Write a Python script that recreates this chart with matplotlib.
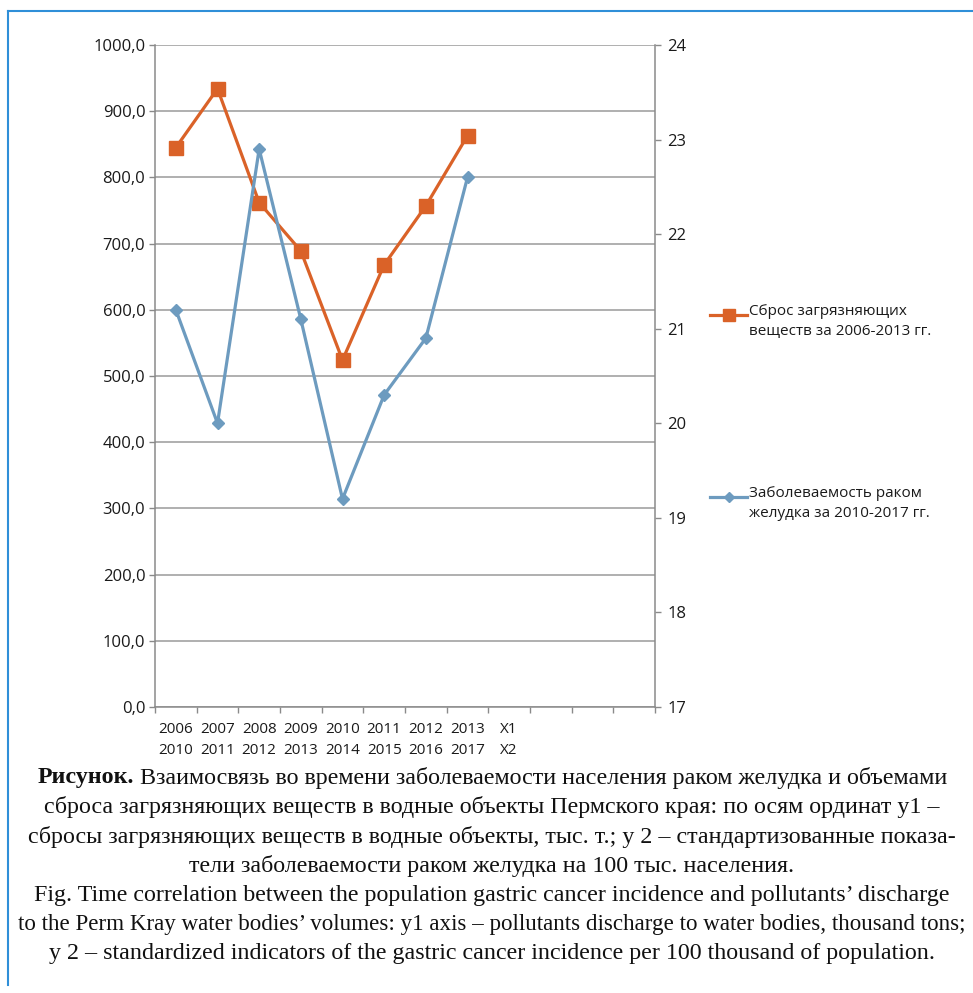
import numpy as np
import matplotlib
matplotlib.use('Agg')
import matplotlib.pyplot as plt
from matplotlib.lines import Line2D
from matplotlib.ticker import FuncFormatter

# ── Данные ────────────────────────────────────────────────────────────────────
years_discharge = ['2006', '2007', '2008', '2009', '2010', '2011', '2012', '2013', 'X1', '', '', '']
years_incidence = ['2010', '2011', '2012', '2013', '2014', '2015', '2016', '2017', 'X2', '', '', '']
discharge = [845, 934, 762, 689, 524, 668, 757, 863]          # тыс. т
incidence = [21.2, 20.0, 22.9, 21.1, 19.2, 20.3, 20.9, 22.6]  # на 100 тыс.
y1_ticks = list(range(0, 1001, 100))
y2_ticks = list(range(17, 25))
legend_labels = ['Сброс загрязняющих\nвеществ за 2006-2013 гг.',
                 'Заболеваемость раком\nжелудка за 2010-2017 гг.']

caption_ru = [
    ('Рисунок.', ' Взаимосвязь во времени заболеваемости населения раком желудка и объемами'),
    ('', 'сброса загрязняющих веществ в водные объекты Пермского края: по осям ординат у1 –'),
    ('', 'сбросы загрязняющих веществ в водные объекты, тыс. т.; у 2 – стандартизованные показа-'),
    ('', 'тели заболеваемости раком желудка на 100 тыс. населения.'),
]
caption_en = [
    'Fig. Time correlation between the population gastric cancer incidence and pollutants’ discharge',
    'to the Perm Kray water bodies’ volumes: y1 axis – pollutants discharge to water bodies, thousand tons;',
    'y 2 – standardized indicators of the gastric cancer incidence per 100 thousand of population.',
]

ORANGE = '#DA6228'
BLUE = '#6D9BBF'
GRID = '#9a9a9a'
AXIS = '#8a8a8a'
TXT = '#1a1a1a'
FRAME = '#2f8fd8'

plt.rcParams['font.family'] = ['Open Sans', 'DejaVu Sans']

W, H = 973, 993
fig = plt.figure(figsize=(W / 100, H / 100), dpi=100)
fig.patch.set_facecolor('white')

# ── Диаграмма с двумя осями ординат ───────────────────────────────────────────
ax = fig.add_axes([155 / W, 1 - 707 / H, 500 / W, 662 / H])
n = len(years_discharge)
x = np.arange(len(discharge))

ax.set_xlim(-0.5, n - 0.5)
ax.set_ylim(y1_ticks[0], y1_ticks[-1])
ax.set_yticks(y1_ticks)
ax.yaxis.set_major_formatter(FuncFormatter(lambda v, _: f'{v:.1f}'.replace('.', ',')))
ax.yaxis.grid(True, color=GRID, lw=1.1)
ax.set_axisbelow(True)

ax.set_xticks(np.arange(-0.5, n, 1))
ax.set_xticklabels([])
ax.set_xticks(np.arange(n), minor=True)
ax.set_xticklabels([f'{a}\n{b}' for a, b in zip(years_discharge, years_incidence)],
                   minor=True, fontsize=11, color=TXT, linespacing=1.5)
ax.tick_params(axis='x', which='major', length=4, width=1, color=AXIS, direction='out')
ax.tick_params(axis='x', which='minor', length=0, pad=11)
ax.tick_params(axis='y', length=4, width=1, color=AXIS, labelsize=12, labelcolor=TXT, pad=3)

for side in ['left', 'bottom']:
    ax.spines[side].set_color(AXIS)
    ax.spines[side].set_linewidth(1.1)
ax.spines['top'].set_visible(False)
ax.spines['right'].set_visible(False)

ln1, = ax.plot(x, discharge, color=ORANGE, lw=2.3, marker='s', ms=10,
               mfc=ORANGE, mec=ORANGE)

ax2 = ax.twinx()
ax2.set_ylim(y2_ticks[0], y2_ticks[-1])
ax2.set_yticks(y2_ticks)
ax2.tick_params(axis='y', length=4, width=1, color=AXIS, labelsize=12, labelcolor=TXT, pad=5)
for side in ['left', 'bottom', 'top']:
    ax2.spines[side].set_visible(False)
ax2.spines['right'].set_color(AXIS)
ax2.spines['right'].set_linewidth(1.1)

ln2, = ax2.plot(x, incidence, color=BLUE, lw=2.3, marker='D', ms=6.5,
                mfc=BLUE, mec=BLUE)

# Легенда: маркер на уровне первой строки подписи
legend_rows = [315, 497]
for (line, label, top) in zip([ln1, ln2], legend_labels, legend_rows):
    yy = 1 - top / H
    fig.add_artist(Line2D([710 / W, 747 / W], [yy, yy], transform=fig.transFigure,
                          color=line.get_color(), lw=2.3))
    fig.add_artist(Line2D([728.5 / W], [yy], transform=fig.transFigure,
                          marker=line.get_marker(), ms=line.get_markersize() * 0.8,
                          color=line.get_color(), lw=0))
    fig.text(749 / W, yy + 11 / H, label, ha='left', va='top',
             fontsize=11, color=TXT, linespacing=1.45)

# ── Подпись ───────────────────────────────────────────────────────────────────
cap_font = dict(family='Liberation Serif', color='#111111')
cap_size = 17.3
renderer = fig.canvas.get_renderer()
y0, step = 778, 29.3
cx = 492
max_w = W - 2 * 13
row = 0
for bold, rest in caption_ru:
    y = 1 - (y0 + row * step) / H
    tb = fig.text(0, y, bold, weight='bold', va='center', size=cap_size, **cap_font)
    tr = fig.text(0, y, rest, va='center', size=cap_size, **cap_font)
    wb = tb.get_window_extent(renderer).width if bold else 0
    wr = tr.get_window_extent(renderer).width
    left = max(cx - (wb + wr) / 2, 12)
    tb.set_x(left / W)
    tr.set_x((left + wb) / W)
    row += 1
for line in caption_en:
    y = 1 - (y0 + row * step) / H
    t = fig.text(0, y, line, va='center', size=cap_size, **cap_font)
    w = t.get_window_extent(renderer).width
    if w > max_w:
        # слишком длинная строка — слегка уменьшаем кегль
        t.set_fontsize(cap_size * max_w / w)
        w = t.get_window_extent(renderer).width
    t.set_x(max(cx - w / 2, 13) / W)
    row += 1

# ── Рамка ─────────────────────────────────────────────────────────────────────
fig.add_artist(Line2D([8 / W, 8 / W], [1 - 11 / H, 1 - 985 / H],
                      transform=fig.transFigure, color=FRAME, lw=1.5))
fig.add_artist(Line2D([8 / W, 1.0], [1 - 11 / H, 1 - 11 / H],
                      transform=fig.transFigure, color=FRAME, lw=1.5))

fig.savefig('out.png', dpi=100, facecolor=fig.get_facecolor())
